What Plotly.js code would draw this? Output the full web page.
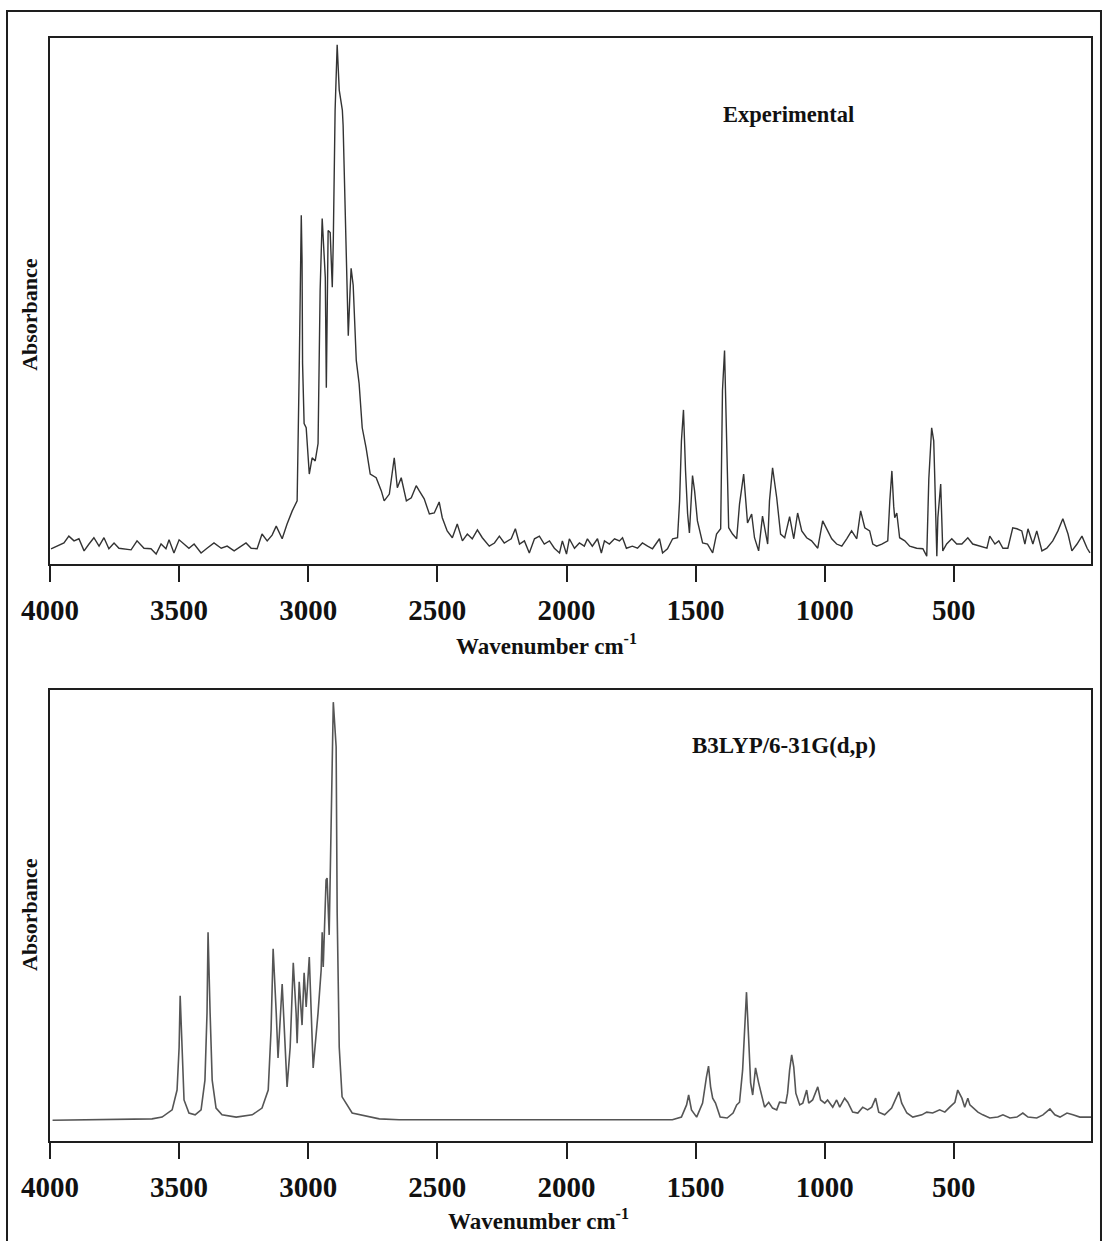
<!DOCTYPE html>
<html>
<head>
<meta charset="utf-8">
<script src="https://cdn.plot.ly/plotly-3.0.1.min.js"></script>
<style>
  html, body { margin: 0; padding: 0; background: #ffffff; }
  #chart { width: 1103px; height: 1241px; }
</style>
</head>
<body>
<div id="chart"></div>
<script>
// ---- Data ----
const tickValues = [4000, 3500, 3000, 2500, 2000, 1500, 1000, 500];
const tickLabels = ["4000", "3500", "3000", "2500", "2000", "1500", "1000", "500"];

// Experimental spectrum: wavenumber (cm-1) and absorbance (arbitrary units, 0-100)
const expWavenumber = [
  3996, 3973, 3946, 3927, 3907, 3888, 3868, 3849, 3830, 3810, 3791, 3772, 3752, 3733, 3713, 3686,
  3663, 3636, 3609, 3589, 3570, 3551, 3539, 3520, 3500, 3481, 3462, 3442, 3415, 3392, 3365, 3337,
  3314, 3287, 3260, 3241, 3221, 3198, 3179, 3159, 3140, 3124, 3101, 3082, 3062, 3043, 3035, 3027,
  3024, 3022, 3016, 3008, 2996, 2985, 2973, 2962, 2954, 2946, 2934, 2930, 2923, 2915, 2907, 2903,
  2896, 2888, 2880, 2868, 2865, 2857, 2849, 2845, 2838, 2834, 2826, 2814, 2803, 2791, 2776, 2760,
  2737, 2717, 2706, 2686, 2667, 2655, 2640, 2620, 2601, 2582, 2570, 2551, 2531, 2512, 2493, 2481,
  2462, 2442, 2423, 2403, 2384, 2365, 2345, 2326, 2299, 2279, 2260, 2241, 2214, 2198, 2182, 2163,
  2144, 2124, 2105, 2086, 2066, 2047, 2027, 2016, 2000, 1989, 1969, 1950, 1931, 1919, 1900, 1880,
  1865, 1853, 1834, 1814, 1795, 1783, 1768, 1745, 1725, 1706, 1686, 1667, 1640, 1628, 1609, 1589,
  1570, 1562, 1555, 1547, 1539, 1531, 1524, 1512, 1504, 1493, 1473, 1454, 1434, 1419, 1403, 1396,
  1388, 1380, 1372, 1357, 1341, 1330, 1314, 1299, 1283, 1272, 1256, 1241, 1221, 1214, 1202, 1186,
  1171, 1155, 1136, 1120, 1105, 1089, 1070, 1051, 1027, 1008, 993, 973, 954, 934, 915, 896,
  876, 861, 845, 826, 814, 799, 779, 756, 748, 740, 733, 729, 721, 710, 690, 671,
  644, 620, 605, 597, 586, 578, 574, 566, 562, 551, 543, 528, 508, 489, 469, 446,
  427, 400, 372, 361, 341, 326, 310, 291, 272, 256, 237, 225, 213, 194, 179, 159,
  140, 117, 97, 78, 58, 43, 23, 4, -16, -27
];
const expAbsorbance = [
  2.9, 3.4, 4.0, 5.3, 4.4, 4.8, 2.5, 3.8, 5.0, 3.4, 5.0, 2.9, 4.0, 3.0, 2.9, 2.7,
  4.4, 3.0, 2.9, 1.9, 3.8, 2.9, 4.6, 2.1, 4.6, 3.8, 3.0, 3.8, 2.1, 3.0, 4.0, 3.0,
  3.4, 2.5, 3.4, 4.0, 3.0, 2.9, 5.7, 4.4, 5.5, 7.2, 4.8, 7.6, 10.1, 12.0, 36.8, 66.3,
  57.7, 38.1, 26.7, 25.9, 17.1, 20.2, 19.6, 22.9, 52.0, 65.7, 54.5, 33.5, 63.4, 63.0, 52.6, 61.5,
  86.3, 98.7, 90.1, 86.3, 83.4, 69.1, 50.1, 43.4, 52.0, 56.2, 53.0, 38.7, 34.3, 25.9, 22.1, 17.1,
  16.4, 13.9, 12.0, 13.3, 20.2, 14.5, 16.4, 12.0, 12.6, 14.9, 13.9, 12.4, 9.5, 9.7, 11.8, 8.8,
  6.3, 5.0, 7.6, 4.4, 5.7, 4.8, 6.5, 5.0, 3.4, 4.0, 5.3, 4.0, 4.8, 6.7, 3.8, 4.4,
  2.1, 4.8, 5.3, 3.8, 4.4, 3.0, 2.1, 4.4, 1.9, 4.8, 3.0, 4.0, 3.4, 4.8, 3.4, 4.8,
  2.1, 4.4, 3.8, 4.8, 4.4, 5.0, 3.0, 3.4, 3.0, 4.0, 3.4, 2.9, 4.8, 2.1, 2.9, 4.8,
  5.0, 12.0, 23.4, 29.3, 17.7, 9.5, 5.9, 16.8, 13.9, 8.2, 4.0, 3.8, 2.1, 5.7, 6.7, 33.0,
  40.6, 24.0, 6.9, 5.7, 4.8, 11.4, 17.1, 7.8, 9.5, 5.0, 2.5, 9.1, 3.8, 12.0, 18.3, 12.6,
  5.7, 5.0, 9.0, 4.8, 9.7, 6.3, 5.0, 4.4, 3.0, 8.2, 6.7, 4.8, 3.8, 3.4, 4.8, 6.3,
  4.8, 10.1, 6.9, 6.3, 3.8, 3.4, 3.8, 4.4, 12.0, 17.7, 11.0, 8.8, 9.7, 5.0, 4.4, 3.4,
  3.0, 2.9, 1.5, 16.2, 25.9, 23.4, 16.4, 1.5, 8.8, 15.2, 2.5, 3.8, 4.8, 3.8, 3.8, 5.0,
  3.8, 3.4, 3.0, 5.3, 3.8, 4.4, 3.0, 3.0, 6.9, 6.7, 6.3, 3.8, 6.7, 3.8, 6.3, 2.5,
  3.0, 4.4, 6.3, 8.6, 5.7, 2.5, 3.8, 5.3, 3.0, 2.1
];

// B3LYP/6-31G(d,p) calculated spectrum
const calcWavenumber = [
  3990, 3733, 3605, 3566, 3527, 3508, 3500, 3496, 3489, 3481, 3462, 3438, 3415, 3400, 3392, 3388, 3380,
  3372, 3357, 3334, 3279, 3217, 3179, 3155, 3144, 3136, 3124, 3117, 3101, 3093, 3082, 3070, 3058,
  3047, 3043, 3035, 3024, 3016, 3008, 2996, 2981, 2962, 2950, 2946, 2942, 2931, 2927, 2919, 2911,
  2903, 2892, 2888, 2880, 2869, 2830, 2725, 2648, 2260, 1717, 1590, 1555, 1535, 1527, 1516, 1496,
  1473, 1458, 1450, 1442, 1434, 1423, 1405, 1378, 1355, 1341, 1330, 1318, 1310, 1303, 1295, 1287,
  1279, 1268, 1256, 1245, 1233, 1217, 1202, 1186, 1175, 1151, 1144, 1136, 1128, 1120, 1112, 1097,
  1085, 1070, 1062, 1047, 1027, 1016, 1000, 989, 969, 954, 942, 923, 911, 892, 872, 853,
  834, 818, 803, 791, 768, 741, 721, 713, 702, 682, 659, 624, 605, 582, 555, 535,
  516, 496, 485, 469, 458, 446, 438, 427, 407, 388, 361, 330, 310, 283, 256, 233,
  213, 179, 155, 128, 109, 89, 62, 39, 12, -15, -31
];
const calcAbsorbance = [
  4.6, 4.7, 4.9, 5.3, 6.9, 11.3, 20.8, 32.2, 20.8, 9.1, 6.2, 5.8, 6.9, 13.5, 28.4, 46.3, 28.4,
  13.5, 7.3, 5.8, 5.3, 5.8, 7.3, 11.3, 24.6, 42.6, 28.4, 18.4, 34.8, 24.6, 12.0, 20.8, 39.5,
  28.4, 21.7, 35.3, 25.7, 37.3, 29.7, 40.8, 16.2, 28.4, 37.9, 46.3, 38.6, 57.9, 58.3, 45.7, 72.7,
  97.3, 87.4, 50.6, 20.8, 9.8, 6.2, 4.9, 4.7, 4.7, 4.7, 4.7, 5.3, 8.0, 10.2, 6.9, 5.3,
  8.4, 14.2, 16.6, 12.0, 9.5, 8.4, 5.3, 5.1, 6.2, 8.0, 8.6, 15.7, 26.8, 33.0, 23.1, 12.9,
  10.2, 16.2, 12.9, 10.6, 7.5, 8.6, 7.3, 6.9, 8.6, 8.4, 10.6, 15.7, 19.1, 16.4, 10.6, 8.0,
  8.4, 11.3, 8.4, 9.1, 12.0, 9.1, 8.4, 9.1, 7.5, 9.1, 7.5, 9.5, 8.6, 6.4, 6.2, 7.5,
  6.9, 7.5, 9.5, 6.4, 5.8, 7.3, 9.8, 10.9, 8.4, 6.2, 5.3, 5.8, 6.4, 6.2, 6.9, 6.4,
  7.5, 8.6, 11.3, 9.5, 7.5, 9.5, 8.0, 7.5, 6.4, 5.8, 5.1, 5.3, 5.8, 5.1, 5.3, 6.2,
  5.3, 5.1, 5.8, 7.1, 5.8, 5.3, 6.2, 5.8, 5.3, 5.3, 5.3
];

// ---- Chart ----
const FONT = "Liberation Serif, 'Times New Roman', Times, serif";
const INK = "#1e1e1e";

const traces = [
  {
    type: "scatter", mode: "lines", name: "Experimental",
    x: expWavenumber, y: expAbsorbance, xaxis: "x", yaxis: "y",
    line: { color: "#333333", width: 1.4 }, hoverinfo: "skip"
  },
  {
    type: "scatter", mode: "lines", name: "B3LYP/6-31G(d,p)",
    x: calcWavenumber, y: calcAbsorbance, xaxis: "x2", yaxis: "y2",
    line: { color: "#555555", width: 1.6 }, hoverinfo: "skip"
  }
];

function xAxis(anchor) {
  return {
    anchor: anchor, domain: [0, 1], range: [4000, -31], autorange: false,
    tickmode: "array", tickvals: tickValues, ticktext: tickLabels,
    ticks: "outside", ticklen: 16, tickwidth: 2, tickcolor: INK,
    ticklabelstandoff: 3,
    tickfont: { family: FONT, size: 29, color: "#111", weight: "bold" },
    showline: true, mirror: true, linewidth: 2, linecolor: INK,
    showgrid: false, zeroline: false
  };
}
function yAxis(anchor, domain) {
  return {
    anchor: anchor, domain: domain, range: [0, 100], autorange: false,
    showticklabels: false, ticks: "",
    showline: true, mirror: true, linewidth: 2, linecolor: INK,
    showgrid: false, zeroline: false
  };
}

const layout = {
  width: 1103, height: 1241,
  margin: { l: 50, r: 12, t: 38, b: 100 },
  paper_bgcolor: "#ffffff", plot_bgcolor: "#ffffff",
  showlegend: false,
  font: { family: FONT, color: "#111" },
  xaxis: xAxis("y"),
  yaxis: yAxis("x", [0.5231, 1]),
  xaxis2: xAxis("y2"),
  yaxis2: yAxis("x2", [0, 0.4089]),
  shapes: [
    { type: "rect", xref: "paper", yref: "paper",
      x0: -0.0413, x1: 1.0096, y0: -0.094, y1: 1.0245,
      line: { color: INK, width: 2 }, fillcolor: "rgba(0,0,0,0)", layer: "below" }
  ],
  annotations: [
    { text: "<b>Experimental</b>", xref: "paper", yref: "paper", x: 0.709, y: 0.931,
      xanchor: "center", yanchor: "middle", showarrow: false, font: { family: FONT, size: 22.5, color: "#111" } },
    { text: "<b>B3LYP/6-31G(d,p)</b>", xref: "paper", yref: "paper", x: 0.705, y: 0.359,
      xanchor: "center", yanchor: "middle", showarrow: false, font: { family: FONT, size: 23, color: "#111" } },
    { text: "<b>Wavenumber cm<sup>-1</sup></b>", xref: "paper", yref: "paper", x: 0.4774, y: 0.4497,
      xanchor: "center", yanchor: "middle", showarrow: false, font: { family: FONT, size: 23, color: "#111" } },
    { text: "<b>Wavenumber cm<sup>-1</sup></b>", xref: "paper", yref: "paper", x: 0.4688, y: -0.0716,
      xanchor: "center", yanchor: "middle", showarrow: false, font: { family: FONT, size: 23, color: "#111" } },
    { text: "<b>Absorbance</b>", xref: "paper", yref: "paper", x: -0.0192, y: 0.749, textangle: -90,
      xanchor: "center", yanchor: "middle", showarrow: false, font: { family: FONT, size: 22, color: "#111" } },
    { text: "<b>Absorbance</b>", xref: "paper", yref: "paper", x: -0.0192, y: 0.205, textangle: -90,
      xanchor: "center", yanchor: "middle", showarrow: false, font: { family: FONT, size: 22, color: "#111" } }
  ]
};

Plotly.newPlot("chart", traces, layout, { displayModeBar: false, staticPlot: true });
</script>
</body>
</html>
